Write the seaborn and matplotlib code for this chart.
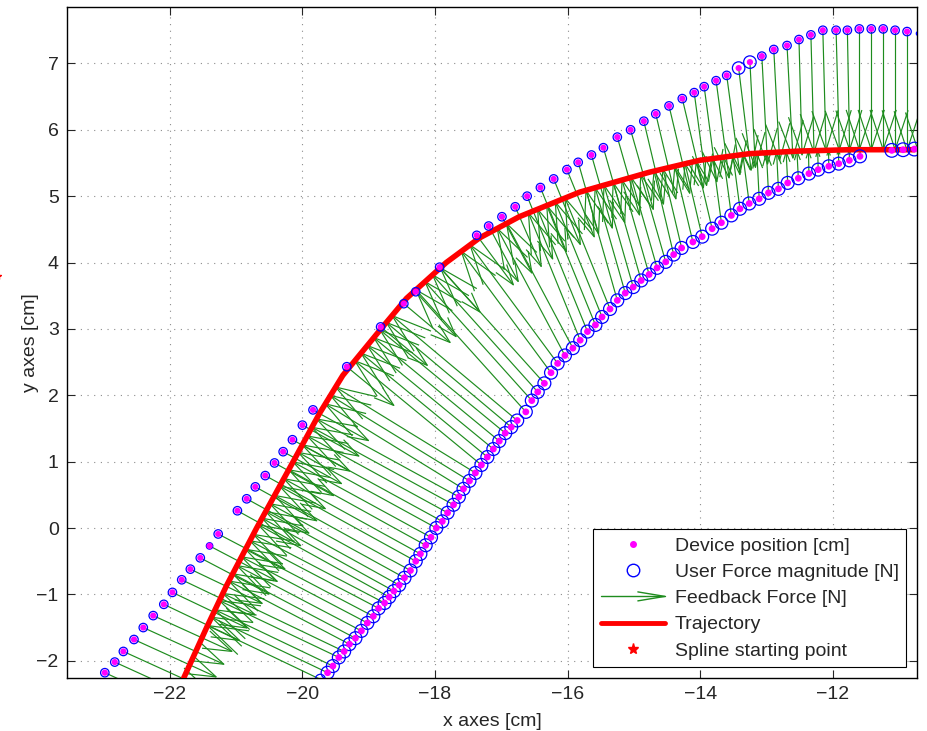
import numpy as np
import seaborn as sns
import matplotlib.pyplot as plt
from matplotlib.collections import LineCollection
from matplotlib.legend_handler import HandlerBase
from matplotlib.lines import Line2D

# device positions, outer (upper-left) side of the trajectory
upper_x = [-22.98, -22.83, -22.70, -22.54, -22.40, -22.25, -22.09, -21.96, -21.82, -21.69,
           -21.54, -21.40, -21.27, -20.98, -20.84, -20.71, -20.56, -20.42, -20.29, -20.15,
           -20.00, -19.84, -19.33, -18.82, -18.47, -18.29, -17.93, -17.37, -17.19, -16.99,
           -16.79, -16.61, -16.41, -16.21, -16.01, -15.84, -15.64, -15.46, -15.25, -15.05,
           -14.85, -14.67, -14.47, -14.27, -14.09, -13.94, -13.76, -13.60, -13.42, -13.25,
           -13.07, -12.89, -12.69, -12.51, -12.33, -12.15, -11.95, -11.78, -11.60, -11.42,
           -11.24, -11.06, -10.88, -10.71]
upper_y = [-2.18, -2.02, -1.86, -1.68, -1.50, -1.32, -1.15, -0.97, -0.78, -0.62,
           -0.45, -0.27, -0.09, 0.26, 0.44, 0.62, 0.79, 0.98, 1.15, 1.33,
           1.55, 1.78, 2.43, 3.03, 3.38, 3.56, 3.93, 4.41, 4.55, 4.69,
           4.84, 5.00, 5.13, 5.26, 5.40, 5.51, 5.62, 5.73, 5.89, 6.00,
           6.13, 6.24, 6.36, 6.47, 6.56, 6.65, 6.74, 6.82, 6.93, 7.02,
           7.11, 7.21, 7.27, 7.36, 7.43, 7.50, 7.50, 7.50, 7.52, 7.52,
           7.52, 7.50, 7.48, 7.45]
upper_force = [1.05] * 11 + [0.8] + [1.05] * 36 + [1.55, 1.55] + [1.05] * 13 + [0.5]

# device positions, inner (lower-right) side of the trajectory
lower_x = [-19.73, -19.62, -19.54, -19.45, -19.37, -19.29, -19.20, -19.11, -19.02, -18.93,
           -18.85, -18.76, -18.69, -18.62, -18.54, -18.46, -18.37, -18.29, -18.22, -18.14,
           -18.06, -17.98, -17.89, -17.81, -17.72, -17.64, -17.57, -17.48, -17.39, -17.30,
           -17.21, -17.12, -17.03, -16.94, -16.85, -16.76, -16.63, -16.54, -16.45, -16.35,
           -16.25, -16.15, -16.04, -15.92, -15.81, -15.70, -15.58, -15.48, -15.36, -15.25,
           -15.13, -15.01, -14.89, -14.77, -14.65, -14.52, -14.40, -14.28, -14.11, -13.97,
           -13.82, -13.68, -13.53, -13.40, -13.26, -13.11, -12.97, -12.82, -12.68, -12.52,
           -12.36, -12.22, -12.06, -11.91, -11.75, -11.59, -11.11, -10.94, -10.77]
lower_y = [-2.28, -2.18, -2.08, -1.95, -1.86, -1.75, -1.66, -1.55, -1.43, -1.33,
           -1.21, -1.13, -1.04, -0.95, -0.86, -0.75, -0.64, -0.50, -0.39, -0.26,
           -0.14, 0.00, 0.10, 0.23, 0.35, 0.47, 0.59, 0.71, 0.83, 0.95,
           1.07, 1.19, 1.31, 1.43, 1.52, 1.62, 1.75, 1.92, 2.05, 2.18,
           2.34, 2.48, 2.60, 2.71, 2.83, 2.96, 3.06, 3.18, 3.30, 3.43,
           3.54, 3.63, 3.73, 3.82, 3.92, 4.01, 4.12, 4.22, 4.31, 4.39,
           4.51, 4.60, 4.71, 4.81, 4.89, 4.96, 5.05, 5.11, 5.20, 5.27,
           5.34, 5.40, 5.45, 5.49, 5.54, 5.60, 5.69, 5.70, 5.71]
lower_force = [1.25] + [1.6] * 75 + [1.7, 1.7, 1.7]

# reference trajectory (spline)
traj_x = [-21.79, -21.44, -21.14, -20.69, -20.15, -19.74, -19.39, -18.79, -18.43, -17.83,
          -17.33, -16.73, -15.82, -14.77, -14.01, -13.26, -12.50, -11.75, -10.77]
traj_y = [-2.26, -1.49, -0.86, 0.00, 0.98, 1.73, 2.30, 3.03, 3.46, 4.00,
          4.37, 4.69, 5.06, 5.36, 5.54, 5.64, 5.68, 5.70, 5.70]

spline_x, spline_y = [-24.61], [3.79]

GREEN = '#1e8c1e'

# --- feedback force: points back toward the trajectory ---
tx, ty = np.array(traj_x), np.array(traj_y)
arc = np.concatenate([[0], np.cumsum(np.hypot(np.diff(tx), np.diff(ty)))])
sd = np.linspace(0, arc[-1], 3000)
xd, yd = np.interp(sd, arc, tx), np.interp(sd, arc, ty)
gx, gy = np.gradient(xd), np.gradient(yd)
gn = np.hypot(gx, gy)
nx, ny = gy / gn, -gx / gn


def feedback(px, py, outer):
    px, py = np.asarray(px), np.asarray(py)
    d2 = (xd[None, :] - px[:, None]) ** 2 + (yd[None, :] - py[:, None]) ** 2
    k = d2.argmin(axis=1)
    dist = np.sqrt(d2[np.arange(len(px)), k])
    if outer:
        ln = np.maximum(dist, 0.9 + 0.5 * dist)
        return nx[k] * ln, ny[k] * ln
    return xd[k] - px, yd[k] - py


def arrow_segments(px, py, u, v, alpha=0.33, beta=0.33, hmax=0.6):
    segs = []
    for x, y, du, dv in zip(px, py, u, v):
        ln = np.hypot(du, dv)
        if ln < 1e-3:
            continue
        a = min(alpha, hmax / ln)
        ex, ey = x + du, y + dv
        segs.append([(x, y), (ex, ey)])
        segs.append([(ex - a * (du + beta * dv), ey - a * (dv - beta * du)),
                     (ex, ey),
                     (ex - a * (du - beta * dv), ey - a * (dv + beta * du))])
    return segs


class ArrowHandler(HandlerBase):
    def create_artists(self, legend, orig_handle, xdescent, ydescent, width, height, fontsize, trans):
        y = height / 2 - ydescent
        x0, x1 = -xdescent, width - xdescent
        hl = 0.42 * width
        shaft = Line2D([x0, x1], [y, y], color=GREEN, lw=1)
        head = Line2D([x1 - hl, x1, x1 - hl], [y + 0.07 * width, y, y - 0.07 * width], color=GREEN, lw=1)
        for a in (shaft, head):
            a.set_transform(trans)
        return [shaft, head]


sns.set_style("ticks")
plt.rcParams['font.family'] = ['Liberation Sans', 'DejaVu Sans']

fig = plt.figure(figsize=(9.27, 7.31), dpi=100)
ax = fig.add_axes([0.0723, 0.0725, 0.9169, 0.9179])

uu, uv = feedback(upper_x, upper_y, True)
lu, lv = feedback(lower_x, lower_y, False)
segs = arrow_segments(upper_x, upper_y, uu, uv) + arrow_segments(lower_x, lower_y, lu, lv)
ax.add_collection(LineCollection(segs, colors=GREEN, linewidths=0.85, zorder=2))

sns.lineplot(x=traj_x, y=traj_y, sort=False, estimator=None, color='red', lw=4, ax=ax, zorder=3)

size_pt = lambda f: (np.array(f) * 5.8) ** 2
sns.scatterplot(x=upper_x, y=upper_y, s=size_pt(upper_force), color='blue', facecolor='none',
                edgecolor='blue', linewidth=0.9, ax=ax, legend=False, zorder=4)
sns.scatterplot(x=lower_x, y=lower_y, s=size_pt(lower_force), color='blue', facecolor='none',
                edgecolor='blue', linewidth=0.9, ax=ax, legend=False, zorder=4)
sns.scatterplot(x=upper_x[:-1], y=upper_y[:-1], s=20, color='#ff00ff', edgecolor='none', ax=ax,
                legend=False, zorder=5)
sns.scatterplot(x=lower_x[1:], y=lower_y[1:], s=24, color='#ff00ff', edgecolor='none', ax=ax,
                legend=False, zorder=5)
ax.plot(spline_x, spline_y, ls='none', marker='*', color='red', ms=6, clip_on=False)

ax.set_xlim(-23.55, -10.73)
ax.set_ylim(-2.26, 7.85)
ax.set_xticks(range(-22, -11, 2))
ax.set_yticks(range(-2, 8))
ax.grid(True, ls=(0, (1, 5)), color='0.55', lw=0.8)
ax.tick_params(direction='in', top=True, right=True, length=6, width=0.8, labelsize=14, pad=6)
for s in ax.spines.values():
    s.set_linewidth(1.0)
    s.set_color('black')
ax.set_xlabel('x axes [cm]', fontsize=14, labelpad=7)
ax.set_ylabel('y axes [cm]', fontsize=14, labelpad=-2)

arrow_h = Line2D([], [])
handles = [
    Line2D([], [], ls='none', marker='o', color='#ff00ff', ms=4),
    Line2D([], [], ls='none', marker='o', mfc='none', mec='blue', ms=9, mew=1),
    arrow_h,
    Line2D([], [], color='red', lw=3.5),
    Line2D([], [], ls='none', marker='*', color='red', ms=8),
]
labels = ['Device position [cm]', 'User Force magnitude [N]', 'Feedback Force [N]',
          'Trajectory', 'Spline starting point']
leg = ax.legend(handles, labels, loc='lower right', fontsize=14, handlelength=3.3,
                handletextpad=0.5, labelspacing=0.44, borderpad=0.4, borderaxespad=0.55,
                fancybox=False, framealpha=1, edgecolor='black',
                handler_map={arrow_h: ArrowHandler()})
leg.get_frame().set_linewidth(0.8)
leg.set_zorder(10)

fig.savefig('out.png', dpi=100)
